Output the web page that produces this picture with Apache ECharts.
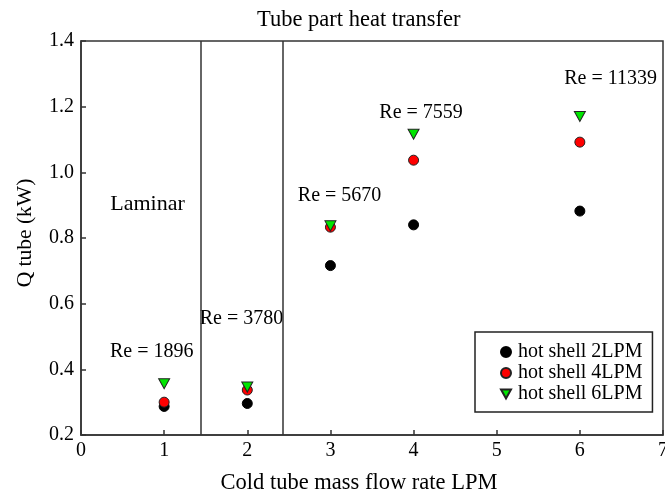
<!DOCTYPE html>
<html>
<head>
<meta charset="utf-8">
<script src="https://cdn.jsdelivr.net/npm/echarts@6/dist/echarts.min.js"></script>
<style>html,body{margin:0;padding:0;background:#fff}#c{width:665px;height:492px}</style>
</head>
<body>
<div id="c"></div>
<script>
var xValues = [1, 2, 3, 4, 6];
var shell2 = [0.287, 0.296, 0.716, 0.840, 0.882];
var shell4 = [0.300, 0.337, 0.833, 1.037, 1.092];
var shell6 = [0.356, 0.346, 0.837, 1.116, 1.170];
var seriesNames = ['hot shell 2LPM', 'hot shell 4LPM', 'hot shell 6LPM'];
var dividers = [1.44, 2.43];
var annoX = [0.85, 1.93, 3.11, 4.09, 6.37];
var annoY = [0.454, 0.555, 0.928, 1.182, 1.284];
var annoText = ['Re = 1896', 'Re = 3780', 'Re = 5670', 'Re = 7559', 'Re = 11339'];
var regionX = [0.80];
var regionY = [0.904];
var regionText = ['Laminar'];

var FONT = 'Liberation Serif';
var TRI = 'path://M0,0 L10,0 L5,9 Z';
function pts(ys){ return xValues.map(function(x,i){ return [x, ys[i]]; }); }
function textPts(xs, ys, ts){ return xs.map(function(x,i){ return {value: [x, ys[i]], name: ts[i]}; }); }

var chart = echarts.init(document.getElementById('c'), null, {renderer:'canvas'});
chart.setOption({
  animation: false,
  backgroundColor: '#fff',
  title: {
    text: 'Tube part heat transfer', left: 257, top: 9, padding: 0,
    textStyle: {fontFamily: FONT, fontSize: 22.5, fontWeight: 'normal', color: '#000'}
  },
  grid: {left: 81, right: 2, top: 41, height: 394, containLabel: false, outerBoundsMode: 'none',
    show: true, borderColor: '#333', borderWidth: 1.5, backgroundColor: 'transparent'},
  legend: {
    data: [
      {name: seriesNames[0], icon: 'circle'},
      {name: seriesNames[1], icon: 'circle'},
      {name: seriesNames[2], icon: TRI}
    ],
    orient: 'vertical', left: 475, top: 332, width: 179,
    padding: [10, 10, 8, 25],
    itemWidth: 10, itemHeight: 10, itemGap: 1,
    borderColor: '#222', borderWidth: 1.5, backgroundColor: '#fff',
    textStyle: {fontFamily: FONT, fontSize: 20, color: '#000', padding: [0, 0, 0, 2]}
  },
  xAxis: {
    type: 'value', min: 0, max: 7, interval: 1,
    name: 'Cold tube mass flow rate LPM', nameLocation: 'middle', nameGap: 37,
    nameTextStyle: {fontFamily: FONT, fontSize: 22.5, color: '#000', padding: [0, 26, 0, 0]},
    axisLine: {show: true, lineStyle: {color: '#333', width: 1.5}},
    axisTick: {show: true, inside: true, length: 5, lineStyle: {color: '#333', width: 1.5}},
    axisLabel: {fontFamily: FONT, fontSize: 20, color: '#000', margin: 6},
    splitLine: {show: false}
  },
  yAxis: {
    type: 'value', min: 0.2, max: 1.4, interval: 0.2,
    name: 'Q tube (kW)', nameLocation: 'middle', nameGap: 45,
    nameTextStyle: {fontFamily: FONT, fontSize: 21.5, color: '#000', padding: [0, 0, 0, 10]},
    axisLine: {show: true, lineStyle: {color: '#333', width: 1.5}},
    axisTick: {show: true, inside: true, length: 5, lineStyle: {color: '#333', width: 1.5}},
    axisLabel: {fontFamily: FONT, fontSize: 20, color: '#000', margin: 7,
      formatter: function(v){ return v.toFixed(1); }},
    splitLine: {show: false}
  },
  series: [
    {
      name: seriesNames[0], type: 'scatter', symbol: 'circle', symbolSize: 10,
      itemStyle: {color: '#000', borderColor: '#000', borderWidth: 1, opacity: 1},
      data: pts(shell2), z: 3,
      markLine: {
        silent: true, symbol: 'none', label: {show: false},
        lineStyle: {color: '#333', width: 1.5, type: 'solid'},
        data: dividers.map(function(d){ return {xAxis: d}; })
      }
    },
    {
      name: seriesNames[1], type: 'scatter', symbol: 'circle', symbolSize: 10,
      itemStyle: {color: '#ff0000', borderColor: '#222', borderWidth: 1, opacity: 1},
      data: pts(shell4), z: 4
    },
    {
      name: seriesNames[2], type: 'scatter', symbol: TRI, symbolSize: [11, 10],
      itemStyle: {color: '#00e600', borderColor: '#222', borderWidth: 1, opacity: 1},
      data: pts(shell6), z: 5
    },
    {
      name: 'annotations', type: 'scatter', symbolSize: 0, silent: true,
      itemStyle: {opacity: 1},
      data: textPts(annoX, annoY, annoText),
      label: {show: true, position: 'inside', formatter: '{b}',
        fontFamily: FONT, fontSize: 20, color: '#000'}
    },
    {
      name: 'regions', type: 'scatter', symbolSize: 0, silent: true,
      itemStyle: {opacity: 1},
      data: textPts(regionX, regionY, regionText),
      label: {show: true, position: 'inside', formatter: '{b}',
        fontFamily: FONT, fontSize: 22, color: '#000'}
    }
  ]
});
</script>
</body>
</html>
